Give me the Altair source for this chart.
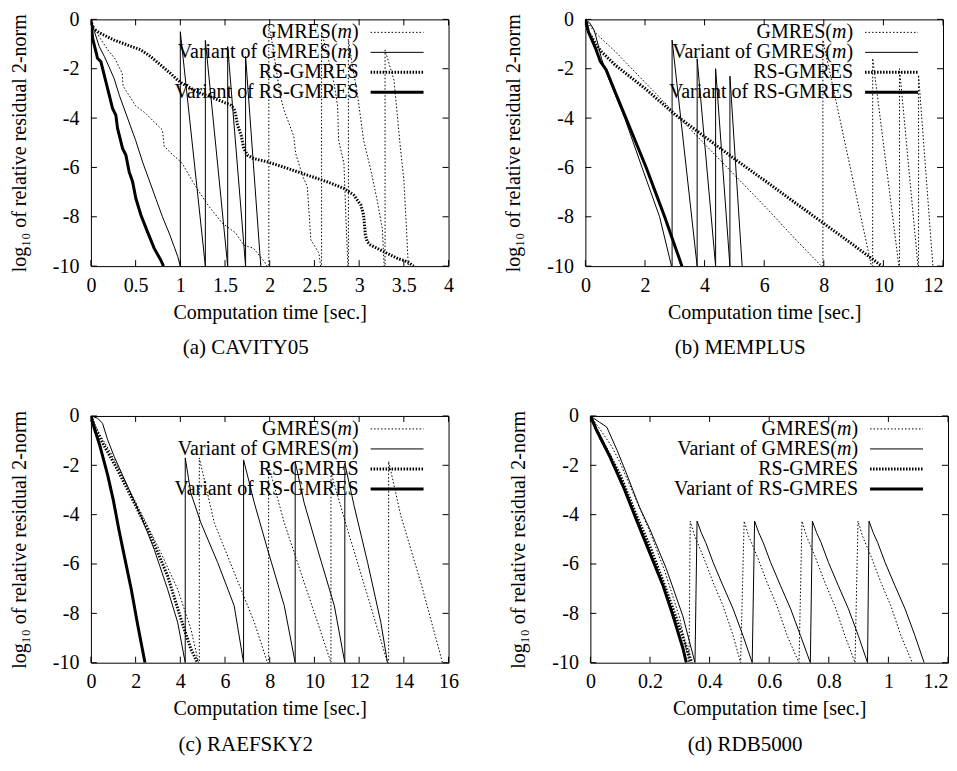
import altair as alt
import pandas as pd

SERIF = "Liberation Serif"
FS = 20

SERIES = ["GMRES(m)", "Variant of GMRES(m)", "RS-GMRES", "Variant of RS-GMRES"]
Y_TICKS = [0, -2, -4, -6, -8, -10]

# ---------------- (a) CAVITY05 ----------------
A_X_TICKS = [0, 0.5, 1, 1.5, 2, 2.5, 3, 3.5, 4]
A_GMRES_T = [0, 0.05, 0.1, 0.19, 0.27, 0.35, 0.36, 0.5, 0.61, 0.72, 0.8, 0.82, 0.92, 1.02, 1.17, 1.32, 1.47, 1.62, 1.71, 1.82, 1.94, 1.97,
             1.99, 1.99, 2.03, 2.08, 2.12, 2.16, 2.27, 2.29, 2.37, 2.42, 2.44, 2.46, 2.55, 2.57,
             2.58, 2.58, 2.65, 2.72, 2.76, 2.77, 2.83, 2.85, 2.875,
             2.88, 2.88, 2.93, 2.98, 3.05, 3.13, 3.2, 3.26, 3.28,
             3.29, 3.29, 3.39, 3.46, 3.5, 3.53, 3.55]
A_GMRES_Y = [0, -0.4, -0.75, -1.24, -1.6, -2.19, -2.7, -3.5, -3.8, -4.2, -4.48, -5.15, -5.5, -5.83, -6.77, -7.58, -8.26, -8.66, -9.15, -9.28, -9.82, -10,
             -10, -0.2, -1.0, -2.2, -3.13, -3.67, -4.75, -5.43, -6.37, -6.77, -7.85, -8.93, -9.47, -10,
             -10, -0.5, -1.5, -2.6, -3.53, -4.89, -5.83, -7.85, -10,
             -10, -0.8, -2.0, -3.0, -4.89, -6.1, -7.3, -8.5, -10,
             -10, -1.24, -2.46, -5.15, -6.5, -8.5, -10]
A_VGMRES_T = [0, 0.04, 0.093, 0.15, 0.2, 0.26, 0.32, 0.43, 0.5, 0.58, 0.65, 0.73, 0.8, 0.875, 0.93, 0.97, 1.0,
              1.0, 1.28, 1.28, 1.53, 1.53, 1.73, 1.73, 1.9]
A_VGMRES_Y = [0, -0.5, -1.1, -1.5, -1.9, -2.4, -3.1, -4.2, -4.9, -5.8, -6.5, -7.3, -8.0, -8.66, -9.2, -9.6, -10,
              -0.5, -10, -0.85, -10, -1.1, -10, -1.5, -10]
A_RS_T = [0, 0.019, 0.11, 0.26, 0.41, 0.56, 0.67, 0.78, 0.89, 0.97, 1.02, 1.12, 1.23, 1.38, 1.56, 1.6, 1.62, 1.64, 1.68, 1.71, 1.75,
          1.82, 1.97, 2.2, 2.42, 2.64, 2.83, 2.94, 3.02, 3.05, 3.07, 3.09, 3.13, 3.28, 3.43, 3.54, 3.61]
A_RS_Y = [0, -0.36, -0.57, -0.84, -1.04, -1.24, -1.51, -1.85, -2.19, -2.46, -2.59, -2.8, -3.0, -3.2, -3.47, -3.61, -3.88, -4.28, -4.69, -5.23, -5.5,
          -5.64, -5.77, -6.04, -6.31, -6.58, -6.85, -7.12, -7.53, -7.93, -8.74, -9.01, -9.15, -9.42, -9.69, -9.82, -10]
A_VRS_T = [0, 0.019, 0.056, 0.074, 0.112, 0.149, 0.205, 0.242, 0.279, 0.298, 0.317, 0.354, 0.391, 0.428, 0.466, 0.503, 0.559, 0.633, 0.708, 0.782, 0.812]
A_VRS_Y = [0, -0.77, -1.31, -1.58, -1.72, -2.26, -3.07, -3.61, -3.88, -4.42, -4.69, -5.23, -5.5, -6.18, -6.58, -7.26, -7.93, -8.61, -9.28, -9.76, -10]

# ---------------- (b) MEMPLUS ----------------
B_X_TICKS = [0, 2, 4, 6, 8, 10, 12]
B_GMRES_T = [0, 0.3, 0.6, 1.0, 2.0, 3.0, 4.0, 5.0, 6.12, 7.0, 7.92,
             7.97, 7.97, 9.6, 9.64, 9.64, 10.52, 10.54, 10.54, 11.16, 11.18, 11.18, 11.66]
B_GMRES_Y = [0, -0.5, -0.85, -1.3, -2.55, -3.8, -5.05, -6.3, -7.7, -8.85, -10,
             -10, -0.84, -10, -10, -1.58, -10, -10, -2.0, -10, -10, -2.25, -10]
B_VGMRES_T = [0, 0.15, 0.3, 0.42, 0.54, 0.65, 1.32, 1.9, 2.49, 2.89,
              2.91, 2.91, 3.75, 3.75, 4.37, 4.37, 4.85, 4.85, 5.26]
B_VGMRES_Y = [0, -0.15, -0.45, -1.0, -1.58, -2.0, -4.0, -6.0, -8.0, -10,
              -10, -0.84, -10, -1.6, -10, -2.0, -10, -2.3, -10]
B_RS_T = [0, 0.1, 0.37, 0.54, 1.0, 2.0, 3.0, 4.23, 5.0, 6.12, 7.0, 7.92, 9.0, 9.95]
B_RS_Y = [0, -0.5, -1.04, -1.31, -1.85, -2.8, -3.85, -4.96, -5.65, -6.62, -7.4, -8.2, -9.15, -10]
B_VRS_T = [0, 0.1, 0.35, 0.5, 0.7, 1.0, 1.36, 1.7, 2.04, 2.35, 2.66, 2.95, 3.24]
B_VRS_Y = [0, -0.5, -1.2, -1.7, -2.05, -2.95, -4.0, -5.0, -6.0, -7.0, -8.0, -9.0, -10]

# ---------------- (c) RAEFSKY2 ----------------
C_X_TICKS = [0, 2, 4, 6, 8, 10, 12, 14, 16]
C_GMRES_T = [0, 0.22, 0.45, 0.89, 1.64, 2.39, 3.13, 3.88, 4.47, 4.82,
             4.85, 4.85, 5.52, 6.41, 7.31, 7.9,
             7.95, 7.95, 8.65, 9.39, 10.14, 10.74,
             10.74, 11.48, 12.38, 13.27,
             13.32, 13.32, 13.87, 14.76, 15.73]
C_GMRES_Y = [0, -0.43, -0.83, -1.5, -2.85, -4.19, -5.54, -7.02, -8.63, -10,
             -10, -1.7, -4.33, -6.34, -8.36, -10,
             -10, -2.0, -4.33, -6.34, -8.36, -10,
             -2.3, -4.6, -7.29, -10,
             -10, -1.84, -4.06, -6.75, -10]
C_VGMRES_T = [0, 0.3, 0.52, 0.75, 1.04, 1.64, 2.24, 2.83, 3.43, 3.88, 4.22,
              4.22, 4.47, 4.92, 5.67, 6.41, 6.83,
              6.83, 7.31, 7.9, 8.65, 9.14,
              9.14, 9.54, 10.14, 10.89, 11.36,
              11.36, 11.78, 12.38, 12.97, 13.27]
C_VGMRES_Y = [0, -0.09, -0.3, -0.97, -1.64, -2.85, -4.06, -5.4, -7.02, -8.36, -10,
              -1.7, -3.12, -4.33, -5.94, -7.69, -10,
              -1.78, -3.52, -5.4, -7.69, -10,
              -1.85, -3.52, -5.4, -7.69, -10,
              -1.92, -3.66, -5.94, -8.36, -10]
C_RS_T = [0, 0.22, 0.45, 1.19, 1.94, 2.68, 3.43, 4.03, 4.47, 4.77]
C_RS_Y = [0, -0.56, -0.97, -2.18, -3.52, -4.87, -6.48, -8.23, -9.44, -10]
C_VRS_T = [0, 0.15, 0.4, 0.75, 1.0, 1.25, 1.5, 1.8, 2.1, 2.42]
C_VRS_Y = [0, -0.5, -1.2, -2.4, -3.4, -4.6, -5.7, -7.0, -8.5, -10]

# ---------------- (d) RDB5000 ----------------
D_X_TICKS = [0, 0.2, 0.4, 0.6, 0.8, 1, 1.2]
D_GMRES_T = [0, 0.03, 0.07, 0.1, 0.15, 0.2, 0.25, 0.3, 0.331,
             0.335, 0.35, 0.378, 0.412, 0.445, 0.479, 0.504,
             0.516, 0.531, 0.559, 0.593, 0.626, 0.66, 0.7,
             0.71, 0.725, 0.753, 0.787, 0.82, 0.854, 0.888,
             0.898, 0.913, 0.941, 0.975, 1.008, 1.042, 1.08]
D_GMRES_Y = [0, -0.5, -1.2, -1.9, -3.3, -4.7, -6.3, -8.2, -10,
             -4.26, -4.87, -5.67, -6.75, -7.69, -8.9, -10,
             -4.26, -4.87, -5.67, -6.75, -7.69, -8.9, -10,
             -4.26, -4.87, -5.67, -6.75, -7.69, -8.9, -10,
             -4.26, -4.87, -5.67, -6.75, -7.69, -8.9, -10]
D_VGMRES_T = [0, 0.03, 0.055, 0.09, 0.12, 0.165, 0.2, 0.255, 0.31, 0.351,
              0.358, 0.372, 0.387, 0.412, 0.445, 0.479, 0.512, 0.543,
              0.551, 0.565, 0.58, 0.605, 0.638, 0.672, 0.705, 0.738,
              0.745, 0.759, 0.774, 0.799, 0.832, 0.866, 0.899, 0.93,
              0.935, 0.949, 0.964, 0.989, 1.022, 1.056, 1.089, 1.12]
D_VGMRES_Y = [0, -0.25, -0.45, -1.4, -2.3, -3.7, -4.6, -6.2, -8.1, -10,
              -4.26, -4.73, -5.13, -5.94, -6.88, -7.82, -8.9, -10,
              -4.26, -4.73, -5.13, -5.94, -6.88, -7.82, -8.9, -10,
              -4.26, -4.73, -5.13, -5.94, -6.88, -7.82, -8.9, -10,
              -4.26, -4.73, -5.13, -5.94, -6.88, -7.82, -8.9, -10]
D_RS_T = [0, 0.03, 0.1, 0.15, 0.2, 0.25, 0.3, 0.34]
D_RS_Y = [0, -0.8, -2.4, -3.9, -5.3, -6.9, -8.6, -10]
D_VRS_T = [0, 0.02, 0.065, 0.11, 0.154, 0.199, 0.244, 0.277, 0.311, 0.322]
D_VRS_Y = [0, -0.56, -1.64, -2.85, -4.19, -5.54, -6.88, -8.09, -9.44, -10]

STYLES = {
    "GMRES(m)": dict(strokeWidth=1, strokeDash=[1.5, 2]),
    "Variant of GMRES(m)": dict(strokeWidth=1),
    "RS-GMRES": dict(strokeWidth=3, strokeDash=[1.5, 1.5]),
    "Variant of RS-GMRES": dict(strokeWidth=3),
}

W, H = 358, 247
TICK = 6


def panel(caption, xmax, xticks, data, flush_last=False):
    xscale = alt.Scale(domain=[0, xmax], nice=False, zero=False)
    yscale = alt.Scale(domain=[-10, 0], nice=False, zero=False)
    if flush_last:
        label_align = {"condition": {"test": f"datum.value >= {xmax}", "value": "right"}, "value": "center"}
    else:
        label_align = "center"
    xaxis = alt.Axis(values=xticks, format="~g", grid=False, ticks=False, domain=False,
                     labelFont=SERIF, labelFontSize=FS, labelColor="black", labelPadding=9,
                     labelFlush=False, labelOverlap=False, labelAlign=label_align,
                     title="Computation time [sec.]", titleFont=SERIF, titleFontSize=FS,
                     titleFontWeight="normal", titleColor="black", titlePadding=7)
    yaxis = alt.Axis(values=Y_TICKS, grid=False, ticks=False, domain=False,
                     labelExpr="datum.value == 0 ? '0' : '-' + abs(datum.value)",
                     labelFont=SERIF, labelFontSize=FS, labelColor="black", labelPadding=12,
                     labelFlush=False, labelOverlap=False,
                     title="log\u2081\u2080 of relative residual 2-norm", titleFont=SERIF, titleFontSize=FS,
                     titleFontWeight="normal", titleColor="black", titlePadding=23)
    X = lambda f: alt.X(f, scale=xscale, axis=xaxis)
    Y = lambda f: alt.Y(f, scale=yscale, axis=yaxis)
    layers = []
    for name in SERIES:
        ts, ys = data[name]
        df = pd.DataFrame({"t": ts, "y": ys, "i": list(range(len(ts)))})
        layers.append(
            alt.Chart(df).mark_line(color="black", clip=True, **STYLES[name]).encode(
                x=X("t:Q"), y=Y("y:Q"), order="i:Q")
        )
    xt = pd.DataFrame({"t": xticks})
    yt = pd.DataFrame({"y": Y_TICKS})
    layers.append(alt.Chart(xt).mark_rule(color="black", strokeWidth=1).encode(
        x=X("t:Q"), y=alt.value(H), y2=alt.value(H - TICK)))
    layers.append(alt.Chart(xt).mark_rule(color="black", strokeWidth=1).encode(
        x=X("t:Q"), y=alt.value(0), y2=alt.value(TICK)))
    layers.append(alt.Chart(yt).mark_rule(color="black", strokeWidth=1).encode(
        y=Y("y:Q"), x=alt.value(0), x2=alt.value(TICK)))
    layers.append(alt.Chart(yt).mark_rule(color="black", strokeWidth=1).encode(
        y=Y("y:Q"), x=alt.value(W - TICK), x2=alt.value(W)))
    # gnuplot-style key, top right inside the frame
    tx, lx1, lx2 = 268, 280, 333
    for i, name in enumerate(SERIES):
        yy = 13 + 20 * i
        layers.append(alt.Chart(pd.DataFrame({"s": [name]})).mark_rule(color="black", **STYLES[name]).encode(
            x=alt.value(lx1), x2=alt.value(lx2), y=alt.value(yy)))
        if "(m)" in name:
            head = name.split("(m)")[0] + "("
            pieces = [(")", "normal", tx), ("m", "italic", tx - 0.333 * FS),
                      (head, "normal", tx - 0.333 * FS - 0.722 * FS)]
        else:
            pieces = [(name, "normal", tx)]
        for txt, style, px in pieces:
            layers.append(alt.Chart(pd.DataFrame({"label": [txt]})).mark_text(
                font=SERIF, fontSize=FS, fontStyle=style, align="right", baseline="middle", color="black").encode(
                text="label:N", x=alt.value(px), y=alt.value(yy)))
    return alt.layer(*layers).properties(
        width=W, height=H,
        title=alt.TitleParams(text=caption, orient="bottom", anchor="middle", frame="group",
                              font=SERIF, fontSize=21, fontWeight="normal", color="black", offset=15, dx=-24),
    )


pa = panel("(a) CAVITY05", 4, A_X_TICKS, {
    "GMRES(m)": (A_GMRES_T, A_GMRES_Y), "Variant of GMRES(m)": (A_VGMRES_T, A_VGMRES_Y),
    "RS-GMRES": (A_RS_T, A_RS_Y), "Variant of RS-GMRES": (A_VRS_T, A_VRS_Y)})
pb = panel("(b) MEMPLUS", 12, B_X_TICKS, {
    "GMRES(m)": (B_GMRES_T, B_GMRES_Y), "Variant of GMRES(m)": (B_VGMRES_T, B_VGMRES_Y),
    "RS-GMRES": (B_RS_T, B_RS_Y), "Variant of RS-GMRES": (B_VRS_T, B_VRS_Y)}, flush_last=True)
pc = panel("(c) RAEFSKY2", 16, C_X_TICKS, {
    "GMRES(m)": (C_GMRES_T, C_GMRES_Y), "Variant of GMRES(m)": (C_VGMRES_T, C_VGMRES_Y),
    "RS-GMRES": (C_RS_T, C_RS_Y), "Variant of RS-GMRES": (C_VRS_T, C_VRS_Y)})
pdd = panel("(d) RDB5000", 1.2, D_X_TICKS, {
    "GMRES(m)": (D_GMRES_T, D_GMRES_Y), "Variant of GMRES(m)": (D_VGMRES_T, D_VGMRES_Y),
    "RS-GMRES": (D_RS_T, D_RS_Y), "Variant of RS-GMRES": (D_VRS_T, D_VRS_Y)}, flush_last=True)

chart = alt.vconcat(
    alt.hconcat(pa, pb, spacing=48),
    alt.hconcat(pc, pdd, spacing=48),
    spacing=46,
).configure_view(stroke="black", strokeWidth=1).properties(
    padding={"left": 0, "top": 0, "right": 0, "bottom": 0}
)

chart.save("out.html", embed_options={"renderer": "svg", "actions": False})
